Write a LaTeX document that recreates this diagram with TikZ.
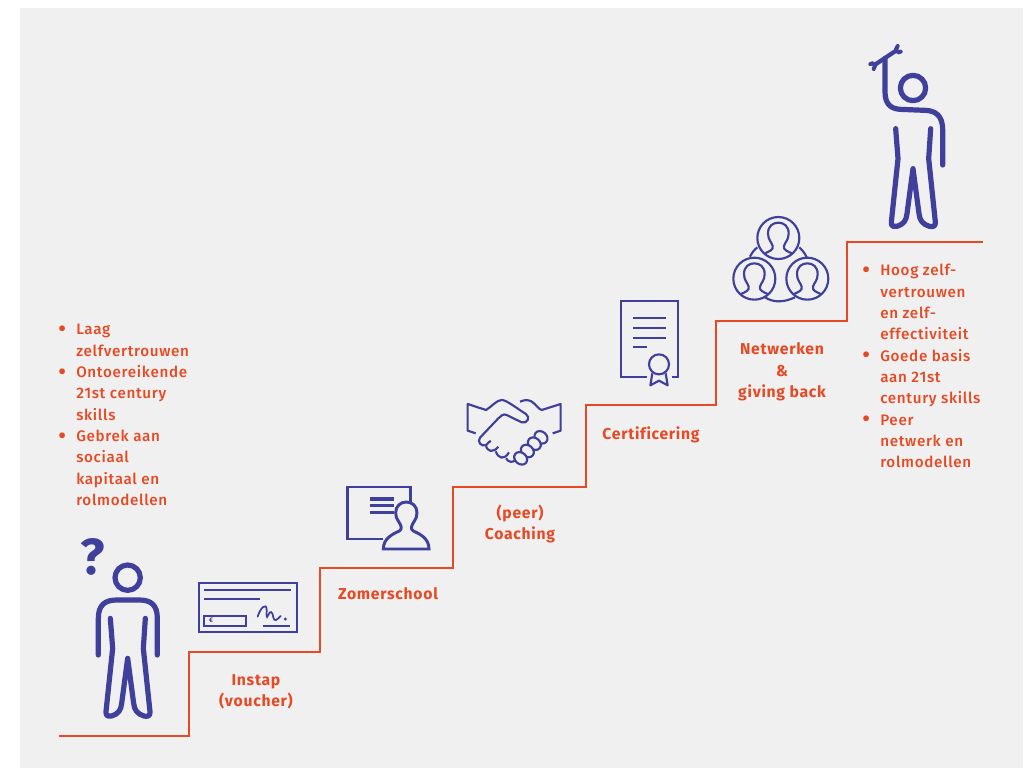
\documentclass[tikz,border=0pt]{standalone}
\usepackage{fontspec}
\setmainfont[LetterSpace=4.5,Ligatures={NoCommon,NoRequired,NoContextual},UprightFont={* Medium},BoldFont={* Bold}]{Fira Sans}
\definecolor{bgc}{HTML}{F0F0F0}
\definecolor{bluec}{HTML}{3F3F9C}
\definecolor{orangec}{HTML}{E64A24}
\newcommand{\bl}{\makebox[13.5pt][l]{\raisebox{-1.4pt}{\fontsize{17}{16}\selectfont•}}}
\newcommand{\ind}{\hspace*{13.5pt}}
\newcommand{\bodypath}{
  \draw[figure] (181,265) -- (188,355) -- (168,545) .. controls (166,560) and (178,560) .. (185,558) .. controls (205,552) and (213,540) .. (215,520) -- (233,385) -- (251,520) .. controls (253,540) and (262,552) .. (282,558) .. controls (290,560) and (302,560) .. (300,545) -- (280,355) -- (286,265);
}
\newcommand{\netbust}[2]{
  \begin{scope}[shift={(#1,#2)}]
  \draw[thin icon] (0,0) circle (63);
  \draw[thin icon] (-40,46) .. controls (-28,40) and (-14,36) .. (-17,24) .. controls (-20,12) and (-31,6) .. (-31,-14) .. controls (-31,-36) and (-16,-46) .. (0,-46) .. controls (16,-46) and (31,-36) .. (31,-14) .. controls (31,6) and (20,12) .. (17,24) .. controls (14,36) and (28,40) .. (40,46);
  \end{scope}
}
\tikzset{
  figure/.style={draw=bluec,line width=3.9pt,line cap=round,line join=round},
  thin icon/.style={draw=bluec,line width=1.6pt,line cap=butt,line join=miter},
  hair icon/.style={draw=bluec,line width=1.3pt,line cap=butt,line join=miter},
  stair/.style={draw=orangec,line width=1.4pt,line join=miter},
  steplabel/.style={text=orangec,font=\fontsize{11.8}{16}\selectfont\bfseries,align=center,inner sep=0pt},
  listing/.style={text=orangec,font=\fontsize{11.4}{16}\selectfont,align=left,inner sep=0pt,anchor=north west},
}
\begin{document}
\begin{tikzpicture}[x=0.75pt,y=-0.75pt]
\useasboundingbox (0,0) rectangle (1030,768);
\fill[white] (0,0) rectangle (1030,768);
\fill[bgc] (20,8) rectangle (1023,768);

% stairs
\coordinate (s0) at (59,736);
\coordinate (s1) at (189,652);
\coordinate (s2) at (320,568);
\coordinate (s3) at (453,487);
\coordinate (s4) at (586,405);
\coordinate (s5) at (716,321);
\coordinate (s6) at (847,242);
\coordinate (s7) at (983,242);
\draw[stair] (s0) -| (s1) -| (s2) -| (s3) -| (s4) -| (s5) -| (s6) -- (s7);

% first person + voucher
\begin{scope}[shift={(50,530)},scale=1/3]
  \draw[figure] (233,143) circle (38);
  \draw[figure] (145,375) -- (145,265) .. controls (145,225) and (165,210) .. (200,210) -- (268,210) .. controls (303,210) and (322,225) .. (322,265) -- (322,375);
  \bodypath
  % voucher
  \draw[hair icon,line width=1.7pt] (446,158) rectangle (742,305);
  \draw[hair icon] (462,180) -- (722,180) (462,206) -- (630,206);
  \draw[hair icon,line width=1.5pt] (462,257) rectangle (587,288);
  \draw[hair icon,line cap=round] (623,260) .. controls (630,235) and (650,215) .. (650,240) .. controls (650,255) and (648,270) .. (655,255) .. controls (660,240) and (668,245) .. (670,262) .. controls (673,278) and (682,268) .. (692,258);
  \draw[hair icon] (638,287) -- (720,287);
  \fill[bluec] (706,267) circle (5);
\end{scope}
\node[text=bluec,font=\fontsize{38}{38}\selectfont\bfseries,inner sep=0pt] (qm) at (93,557) {?};
\node[text=bluec,font=\fontsize{5}{5}\selectfont\bfseries,inner sep=0pt] (euro) at (211,620.5) {€};

% board
\begin{scope}[shift={(330,390)},scale=1/3]
  \draw[thin icon,line width=2.2pt] (160,447) -- (53,447) -- (53,291) -- (242,291) -- (242,340);
  \draw[bluec,line width=2.4pt] (120,327) -- (192,327) (120,347) -- (192,347) (120,367) -- (192,367);
  \draw[thin icon,line width=2.2pt,fill=bgc] (160,477) -- (297,477) .. controls (297,445) and (270,432) .. (250,423) .. controls (240,418) and (245,405) .. (252,395) .. controls (258,388) and (261,378) .. (261,368) .. controls (261,348) and (246,336) .. (229,336) .. controls (212,336) and (197,348) .. (197,368) .. controls (197,378) and (200,388) .. (206,395) .. controls (213,405) and (218,418) .. (208,423) .. controls (188,432) and (160,445) .. (160,477) -- cycle;
  % handshake
  \draw[thin icon,line join=round] (437,130) -- (413,122) -- (413,42) -- (468,60) .. controls (485,50) and (500,30) .. (515,30) .. controls (530,30) and (560,55) .. (588,72) .. controls (602,82) and (592,102) .. (575,97) -- (530,75) .. controls (520,70) and (512,78) .. (505,85) -- (450,143) .. controls (440,155) and (455,172) .. (468,165) -- (482,152);
  \draw[thin icon,line join=round] (468,165) .. controls (470,185) and (490,190) .. (505,170);
  \draw[thin icon,line join=round] (497,184) .. controls (505,205) and (522,212) .. (537,187);
  \draw[thin icon,line join=round] (528,205) .. controls (535,218) and (550,218) .. (556,210);
  \draw[thin icon,line join=round] (570,35) .. controls (585,28) and (600,28) .. (612,40) .. controls (620,48) and (628,58) .. (635,60) -- (692,42) -- (692,122) -- (668,130);
  \foreach \fx/\fy in {633/142,613/161,592/183,572/205}
    \draw[thin icon,fill=bgc,rotate around={-40:(\fx,\fy)}] (\fx,\fy) ellipse (21 and 17);
\end{scope}

% certificate + network
\begin{scope}[shift={(600,210)},scale=1/3]
  \draw[thin icon] (140,502) -- (62,502) -- (62,272) -- (235,272) -- (235,502) -- (215,502);
  \draw[hair icon] (98,325) -- (198,325) (98,354) -- (198,354) (98,383) -- (198,383) (98,411) -- (140,411);
  \draw[thin icon] (177,463) circle (30);
  \draw[thin icon,line join=round] (157,490) -- (151,526) -- (177,512) -- (203,526) -- (197,490);
  \draw[thin icon] (450,140) .. controls (456,128) and (462,120) .. (472,112);
  \draw[thin icon] (598,112) .. controls (606,120) and (614,128) .. (620,142);
  \draw[thin icon] (495,262) .. controls (520,278) and (550,278) .. (585,262);
  \netbust{535}{84}
  \netbust{463}{206}
  \netbust{622}{206}
\end{scope}

% last person
\begin{scope}[shift={(850,30)},scale=1/3]
  \draw[figure] (189,174) circle (38);
  \draw[figure] (278,405) -- (278,300) .. controls (278,255) and (255,242) .. (225,241) -- (150,238) .. controls (120,236) and (105,220) .. (105,185) -- (105,85);
  \begin{scope}[shift={(-44,31)}]
    \bodypath
  \end{scope}
  % spanner
  \draw[bluec,line width=3.2pt,line cap=round] (75,104) -- (138,62);
  \draw[bluec,line width=3pt,line cap=round] (61,102) .. controls (68,96) and (80,105) .. (71,117);
  \draw[bluec,line width=3pt,line cap=round] (152,65) .. controls (144,71) and (132,60) .. (143,48);
\end{scope}

% labels
\node[steplabel] (instap) at (256,691.5) {Instap\\(voucher)};
\node[steplabel] (zomer) at (388,594) {Zomerschool};
\node[steplabel] (coach) at (520,524) {(peer)\\Coaching};
\node[steplabel] (cert) at (651,435) {Certificering};
\node[steplabel] (netw) at (782,372) {Netwerken\\\&\\giving back};

% lists
\node[listing] (left list) at (58,324) {\bl Laag\\\ind zelfvertrouwen\\\bl Ontoereikende\\\ind 21st century\\\ind skills\\\bl Gebrek aan\\\ind sociaal\\\ind kapitaal en\\\ind rolmodellen};
\node[listing] (right list) at (862,264) {\bl Hoog zelf-\\\ind vertrouwen\\\ind en zelf-\\\ind effectiviteit\\\bl Goede basis\\\ind aan 21st\\\ind century skills\\\bl Peer\\\ind netwerk en\\\ind rolmodellen};
\end{tikzpicture}
\end{document}
